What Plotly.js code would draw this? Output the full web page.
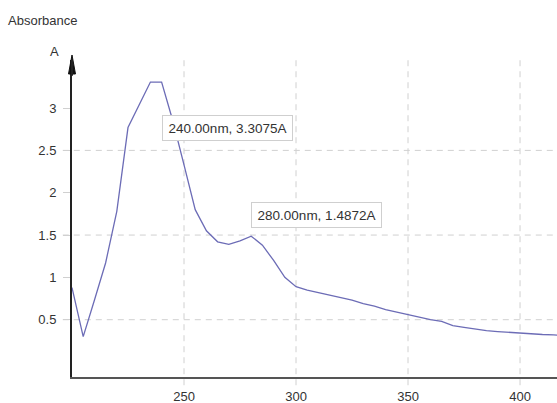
<!DOCTYPE html>
<html>
<head>
<meta charset="utf-8">
<script src="https://cdn.plot.ly/plotly-3.0.1.min.js"></script>
<style>html,body{margin:0;padding:0;background:#fff;}#chart{width:557px;height:403px;}</style>
</head>
<body>
<div id="chart"></div>
<script>
// Data
var wavelength = [200,205,210,215,220,225,230,235,240,245,250,255,260,265,270,275,280,285,290,295,300,305,310,315,320,325,330,335,340,345,350,355,360,365,370,375,380,385,390,395,400,405,410,415,420];
var absorbance = [0.88,0.30,0.73,1.17,1.78,2.77,3.04,3.3075,3.3075,2.85,2.33,1.80,1.55,1.42,1.39,1.43,1.4872,1.38,1.20,1.00,0.89,0.85,0.82,0.79,0.76,0.73,0.69,0.66,0.62,0.59,0.56,0.53,0.50,0.48,0.43,0.41,0.39,0.37,0.36,0.35,0.34,0.33,0.325,0.32,0.315];
var peakNm = [240, 280];
var peakAbs = [3.3075, 1.4872];
var xTicks = [250, 300, 350, 400];
var yTicks = [0.5, 1, 1.5, 2, 2.5, 3];
var yTickText = ['0.5', '1', '1.5', '2', '2.5', '3'];
var yGrid = [0.5, 1.5, 2.5];

var FONT = 'Liberation Sans, Arial, sans-serif';
var TXT = '#333';

var shapes = [];
xTicks.forEach(function (v) {
  shapes.push({type: 'line', layer: 'below', xref: 'x', yref: 'paper', x0: v, x1: v, y0: -0.026, y1: 1,
    line: {color: '#d0d0d0', width: 1, dash: '6px,5px'}});
});
yGrid.forEach(function (v) {
  shapes.push({type: 'line', layer: 'below', xref: 'paper', yref: 'y', x0: -0.019, x1: 1, y0: v, y1: v,
    line: {color: '#d0d0d0', width: 1, dash: '6px,5px'}});
});
// arrow head on top of the y axis
shapes.push({type: 'path', xref: 'paper', yref: 'paper',
  path: 'M -0.0072,0.9558 L 0,1.0158 L 0.0072,0.9558 Z',
  fillcolor: '#111', line: {color: '#111', width: 1}});
shapes.push({type: 'line', xref: 'paper', yref: 'paper', x0: 0, x1: 0, y0: 0.95, y1: 1.0,
  line: {color: '#222', width: 2}});

var annotations = [];
peakNm.forEach(function (nm, i) {
  var first = i === 0;
  annotations.push({
    x: nm, y: peakAbs[i], xref: 'x', yref: 'y',
    text: nm.toFixed(2) + 'nm, ' + peakAbs[i].toFixed(4) + 'A',
    showarrow: false, xanchor: 'left', yanchor: first ? 'top' : 'bottom',
    yshift: first ? -33 : 8, xshift: 0,
    align: 'center', width: 121, height: 16,
    bgcolor: '#fff', bordercolor: '#cfcfcf', borderwidth: 1, borderpad: 4,
    font: {family: FONT, size: 13.5, color: TXT}
  });
});
annotations.push({xref: 'paper', yref: 'paper', x: -0.036, y: 1.027, text: 'A', showarrow: false,
  xanchor: 'center', yanchor: 'middle', font: {family: FONT, size: 13, color: TXT}});

var trace = {
  x: wavelength, y: absorbance, type: 'scatter', mode: 'lines',
  line: {color: '#6c6cb6', width: 1.3},
  hoverinfo: 'skip'
};

var layout = {
  width: 557, height: 403,
  margin: {l: 72, r: 0, t: 60, b: 26, pad: 0},
  paper_bgcolor: '#fff', plot_bgcolor: '#fff',
  showlegend: false,
  title: {text: 'Absorbance', x: 8 / 557, xanchor: 'left', xref: 'container',
    y: 1 - 20 / 403, yref: 'container', yanchor: 'middle',
    font: {family: FONT, size: 13, color: TXT}},
  xaxis: {range: [200, 416.5], tickvals: xTicks, ticktext: xTicks.map(String),
    showgrid: false, zeroline: false, showline: true, linecolor: '#555', linewidth: 2,
    ticks: 'outside', ticklen: 0, tickcolor: '#d0d0d0', ticklabelstandoff: 6,
    tickfont: {family: FONT, size: 13, color: TXT}, fixedrange: true},
  yaxis: {range: [-0.177, 3.568], tickvals: yTicks, ticktext: yTickText,
    showgrid: false, zeroline: false, showline: true, linecolor: '#222', linewidth: 2,
    ticks: 'outside', ticklen: 7, tickcolor: '#d0d0d0', ticklabelstandoff: 4,
    tickfont: {family: FONT, size: 13, color: TXT}, fixedrange: true},
  shapes: shapes,
  annotations: annotations
};

Plotly.newPlot('chart', [trace], layout, {displayModeBar: false, staticPlot: true});
</script>
</body>
</html>
